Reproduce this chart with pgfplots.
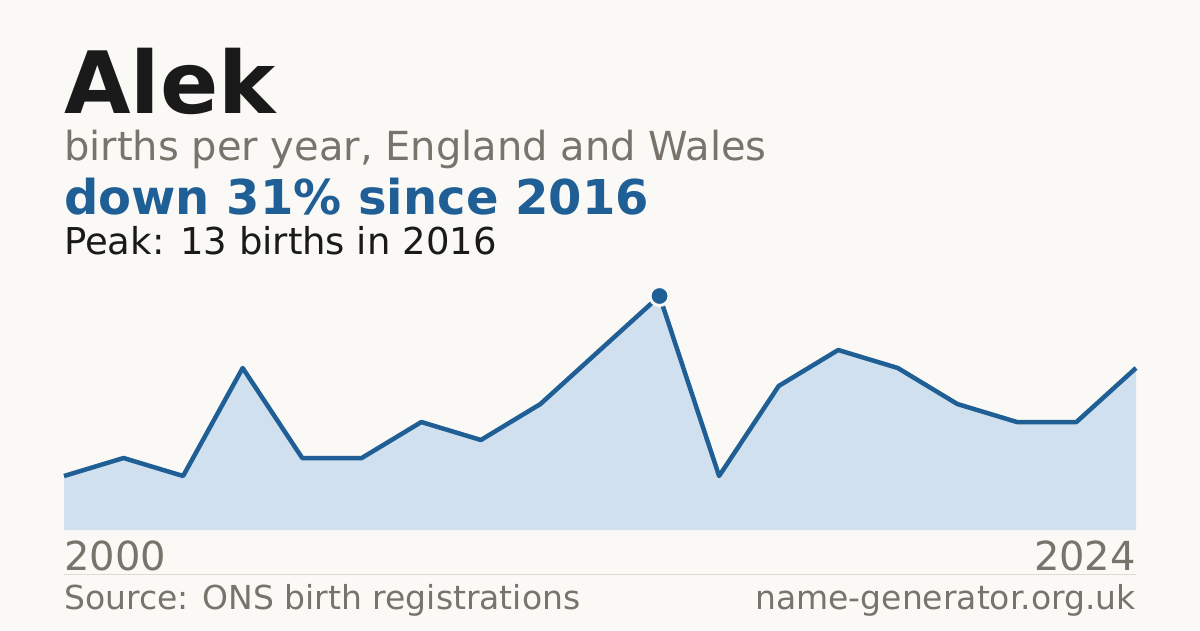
\documentclass[border=0pt]{standalone}
\usepackage{fontspec}
\setmainfont{DejaVu Sans}
\usepackage{pgfplots}
\pgfplotsset{compat=1.18}
\definecolor{bg}{HTML}{FAF9F5}
\definecolor{ink}{HTML}{1A1A1A}
\definecolor{muted}{HTML}{78736B}
\definecolor{accent}{HTML}{1F5F96}
\definecolor{areafill}{HTML}{D0E0EF}
\definecolor{rule}{HTML}{DDDAD3}

\begin{document}
\begin{tikzpicture}[x=1pt,y=1pt]
  % canvas, 1px = 1pt, y measured downwards from the top
  \fill[bg] (0,0) rectangle (1200,-630);

  \node[anchor=base west, inner sep=0, text=ink]
    at (64,-113) {\fontsize{86}{90}\selectfont\bfseries Alek};
  \node[anchor=base west, inner sep=0, text=muted]
    at (64,-160) {\fontsize{40}{44}\selectfont births per year, England and Wales};
  \node[anchor=base west, inner sep=0, text=accent]
    at (64,-214) {\fontsize{48}{52}\selectfont\bfseries down 31\% since 2016};
  \node[anchor=base west, inner sep=0, text=ink]
    at (64,-254) {\fontsize{37}{40}\selectfont Peak: 13 births in 2016};

  \begin{axis}[
    at={(64pt,-530pt)}, anchor=south west,
    scale only axis, width=1072pt, height=234pt,
    xmin=0, xmax=18, ymin=0, ymax=13,
    axis lines=none, ticks=none,
    clip=false
  ]
  \addplot[fill=areafill, draw=none]
  coordinates {
    (0,3) (1,4) (2,3) (3,9) (4,4) (5,4) (6,6) (7,5) (8,7) (9,10)
    (10,13) (11,3) (12,8) (13,10) (14,9) (15,7) (16,6) (17,6) (18,9)
  } \closedcycle;
  \addplot[accent, line width=4.5pt, line join=round, mark=none]
  coordinates {
    (0,3) (1,4) (2,3) (3,9) (4,4) (5,4) (6,6) (7,5) (8,7) (9,10)
    (10,13) (11,3) (12,8) (13,10) (14,9) (15,7) (16,6) (17,6) (18,9)
  };
  % peak marker
  \addplot[only marks, mark=*, mark size=9.5pt,
    mark options={fill=accent, draw=bg, line width=3pt}]
  coordinates {(10,13)};
  \end{axis}

  \draw[rule, line width=1pt] (64,-574) -- (1136,-574);
  \node[anchor=base west, inner sep=0, text=muted]
    at (64,-570) {\fontsize{40}{44}\selectfont 2000};
  \node[anchor=base east, inner sep=0, text=muted]
    at (1136,-570) {\fontsize{40}{44}\selectfont 2024};
  \node[anchor=base west, inner sep=0, text=muted]
    at (64,-609) {\fontsize{33}{36}\selectfont Source: ONS birth registrations};
  \node[anchor=base east, inner sep=0, text=muted]
    at (1136,-609) {\fontsize{33}{36}\selectfont name-generator.org.uk};
\end{tikzpicture}
\end{document}
